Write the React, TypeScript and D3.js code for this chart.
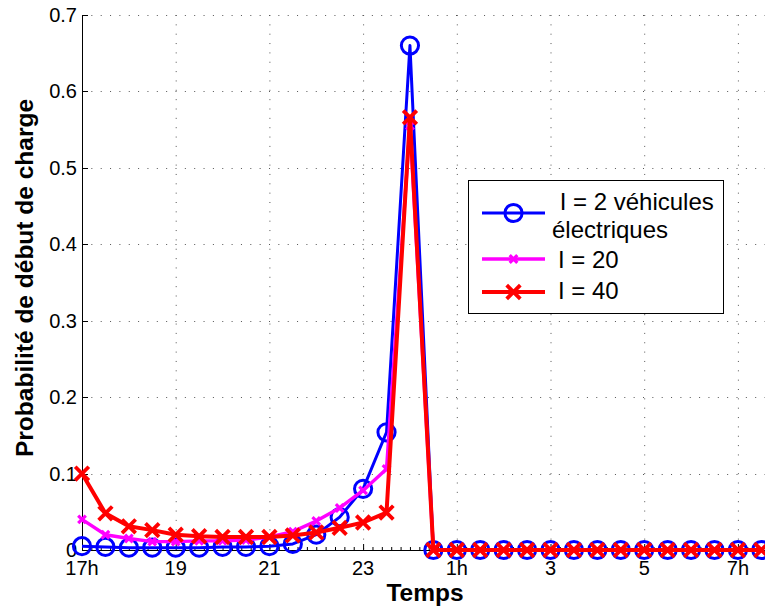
import React from "react";
import * as d3 from "d3";

// time in hours after 17h, one point every half hour
const times: number[] = [
  0, 0.5, 1, 1.5, 2, 2.5, 3, 3.5, 4, 4.5, 5, 5.5, 6, 6.5, 7,
  7.5, 8, 8.5, 9, 9.5, 10, 10.5, 11, 11.5, 12, 12.5, 13, 13.5, 14, 14.5,
];
const serieI2: number[] = [
  0.005, 0.004, 0.003, 0.003, 0.003, 0.003, 0.004, 0.004, 0.005, 0.008, 0.02, 0.043, 0.08, 0.154, 0.66,
  0, 0, 0, 0, 0, 0, 0, 0, 0, 0, 0, 0, 0, 0, 0,
];
const serieI20: number[] = [
  0.04, 0.02, 0.015, 0.011, 0.011, 0.012, 0.012, 0.013, 0.017, 0.024, 0.038, 0.055, 0.078, 0.106, 0.555,
  0, 0, 0, 0, 0, 0, 0, 0, 0, 0, 0, 0, 0, 0, 0,
];
const serieI40: number[] = [
  0.1, 0.048, 0.031, 0.026, 0.02, 0.018, 0.017, 0.017, 0.017, 0.019, 0.023, 0.029, 0.036, 0.049, 0.566,
  0, 0, 0, 0, 0, 0, 0, 0, 0, 0, 0, 0, 0, 0, 0,
];
const xTickValues: number[] = [0, 2, 4, 6, 8, 10, 12, 14];
const xTickLabels: string[] = ["17h", "19", "21", "23", "1h", "3", "5", "7h"];
const yTickValues: number[] = [0, 0.1, 0.2, 0.3, 0.4, 0.5, 0.6, 0.7];
const legendLabels: string[][] = [["\u00A0I = 2 véhicules", "électriques"], ["I = 20"], ["I = 40"]];

const FONT = "'Liberation Sans', Arial, Helvetica, sans-serif";

export default function App() {
  const W = 765;
  const H = 610;
  const x0 = 82;
  const x = d3.scaleLinear().domain([0, 15]).range([x0, x0 + 46.85 * 15]);
  const y = d3.scaleLinear().domain([0, 0.7]).range([550, 15]);
  const xEnd = x(15);

  const line = d3
    .line<number>()
    .x((_, i) => x(times[i]))
    .y((d) => y(d));

  const minorTicks = d3.range(0, 15.001, 0.2).filter((t) => Math.abs(t / 2 - Math.round(t / 2)) > 0.01);

  const circleMarker = (cx: number, cy: number, key: any) => (
    <circle key={key} cx={cx} cy={cy} r={8.6} fill="none" stroke="#0000ff" strokeWidth={3} />
  );
  const crossMarker = (cx: number, cy: number, s: number, color: string, sw: number, key: any) => (
    <path
      key={key}
      d={`M${cx - s},${cy - s}L${cx + s},${cy + s}M${cx - s},${cy + s}L${cx + s},${cy - s}`}
      stroke={color}
      strokeWidth={sw}
      fill="none"
    />
  );

  const series = [
    { data: serieI2, color: "#0000ff", lw: 3, marker: "o" },
    { data: serieI20, color: "#ff00ff", lw: 3.4, marker: "sx" },
    { data: serieI40, color: "#ff0000", lw: 4, marker: "x" },
  ];

  const drawMarker = (m: string, cx: number, cy: number, key: any) => {
    if (m === "o") return circleMarker(cx, cy, key);
    if (m === "sx") return crossMarker(cx, cy, 3.8, "#ff00ff", 3.2, key);
    return crossMarker(cx, cy, 6.8, "#ff0000", 3.8, key);
  };

  const legendX1 = 482;
  const legendX2 = 545;
  const legendRows = [213, 259, 292];
  const legendTextY = [[210, 238], [268], [299]];

  return (
    <svg
      width={W}
      height={H}
      style={{ position: "absolute", left: 0, top: 0, background: "#fff" }}
      fontFamily={FONT}
    >
      <rect x={0} y={0} width={W} height={H} fill="#fff" />
      {/* grid */}
      <g stroke="#555" strokeWidth={1} strokeDasharray="1,8.35" fill="none">
        {xTickValues.filter((t) => t > 0).map((t) => (
          <line key={"gx" + t} x1={x(t) + 0.5} x2={x(t) + 0.5} y1={y(0.7)} y2={y(0)} />
        ))}
        {yTickValues.filter((v) => v > 0).map((v) => (
          <line key={"gy" + v} x1={x0} x2={xEnd} y1={Math.round(y(v)) + 0.5} y2={Math.round(y(v)) + 0.5} />
        ))}
      </g>
      {/* axes */}
      <g stroke="#000" strokeWidth={1} fill="none">
        <line x1={x0 + 0.5} x2={x0 + 0.5} y1={y(0.7)} y2={y(0) + 0.5} />
        <line x1={x0} x2={xEnd} y1={y(0) + 0.5} y2={y(0) + 0.5} />
        {xTickValues.map((t) => (
          <line key={"tx" + t} x1={x(t) + 0.5} x2={x(t) + 0.5} y1={y(0)} y2={y(0) - 6} />
        ))}
        {minorTicks.map((t) => (
          <line key={"mx" + t} x1={x(t) + 0.5} x2={x(t) + 0.5} y1={y(0)} y2={y(0) - 3} />
        ))}
        {yTickValues.map((v) => (
          <line key={"ty" + v} x1={x0} x2={x0 + 6} y1={Math.round(y(v)) + 0.5} y2={Math.round(y(v)) + 0.5} />
        ))}
      </g>
      {/* tick labels */}
      <g fontSize={20} fill="#000">
        {xTickValues.map((t, i) => (
          <text key={"lx" + t} x={x(t)} y={575} textAnchor="middle">
            {xTickLabels[i]}
          </text>
        ))}
        {yTickValues.map((v) => (
          <text key={"ly" + v} x={77} y={y(v) + 7} textAnchor="end">
            {v === 0 ? "0" : d3.format(".1f")(v)}
          </text>
        ))}
      </g>
      {/* axis labels */}
      <text x={425} y={601} textAnchor="middle" fontSize={24.5} fontWeight="bold">
        Temps
      </text>
      <text
        transform={`translate(33,${278}) rotate(-90)`}
        textAnchor="middle"
        fontSize={24.5}
        fontWeight="bold"
      >
        Probabilité de début de charge
      </text>
      {/* series */}
      {series.map((s, si) => (
        <g key={"s" + si}>
          <path d={line(s.data) || ""} fill="none" stroke={s.color} strokeWidth={s.lw} strokeLinejoin="round" />
          {s.data.map((v, i) => drawMarker(s.marker, x(times[i]), y(v), si + "-" + i))}
        </g>
      ))}
      {/* legend */}
      <rect x={468.5} y={180.5} width={255} height={133} fill="#fff" stroke="#000" strokeWidth={1} />
      {series.map((s, si) => (
        <g key={"lg" + si}>
          <line x1={legendX1} x2={legendX2} y1={legendRows[si]} y2={legendRows[si]} stroke={s.color} strokeWidth={s.lw} />
          {drawMarker(s.marker, (legendX1 + legendX2) / 2, legendRows[si], "lm" + si)}
          {legendLabels[si].map((t, li) => (
            <text key={li} x={si === 0 && li === 0 ? 553 : si === 0 ? 552 : 558} y={legendTextY[si][li]} fontSize={24} fill="#000">
              {t}
            </text>
          ))}
        </g>
      ))}
    </svg>
  );
}
